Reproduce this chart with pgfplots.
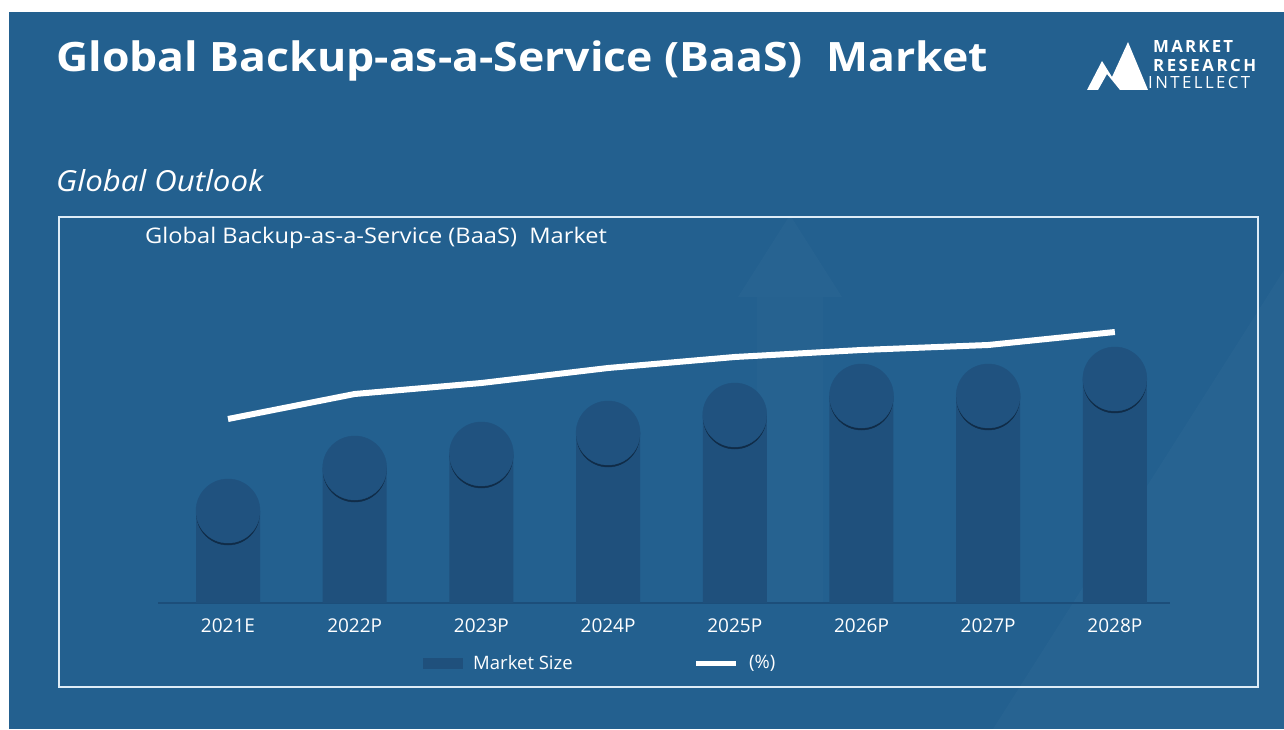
\documentclass[border=0pt]{standalone}
\usepackage{pgfplots}
\pgfplotsset{compat=1.18}
\usepackage{fontspec}
\setmainfont{Open Sans}
\definecolor{bg}{RGB}{35,96,143}
\definecolor{barcol}{RGB}{31,80,124}
\definecolor{circcol}{RGB}{32,82,127}
\definecolor{shadowcol}{RGB}{16,44,72}
\definecolor{basecol}{RGB}{28,78,122}
\definecolor{boxline}{RGB}{222,236,246}
\begin{document}
\begin{tikzpicture}[x=1pt,y=1pt]
\useasboundingbox (0,0) rectangle (1284,729);
\fill[white] (0,0) rectangle (1284,729);
\fill[bg] (9,0) rectangle (1284,717);
% faint watermark
\fill[white,opacity=0.02] (738,432) -- (790,514) -- (842,432) -- cycle;
\fill[white,opacity=0.015] (757,432) rectangle (823,126);
\fill[white,opacity=0.02] (1284,459) -- (1284,0) -- (993,0) -- cycle;
% logo
\fill[white] (1087,639) -- (1102,668) -- (1112,652) -- (1128,687) -- (1148,639) -- (1120,639) -- (1107,655) -- (1098,639) -- cycle;
\node[anchor=base west, inner sep=0, text=white, font=\fontsize{16.8}{18}\bfseries\selectfont] at (1153,676) {\makebox[80pt][s]{M\hfil A\hfil R\hfil K\hfil E\hfil T}};
\node[anchor=base west, inner sep=0, text=white, font=\fontsize{16.8}{18}\bfseries\selectfont] at (1153,657) {\makebox[103pt][s]{R\hfil E\hfil S\hfil E\hfil A\hfil R\hfil C\hfil H}};
\node[anchor=base west, inner sep=0, text=white, font=\fontsize{16.8}{18}\selectfont] at (1148,640) {\makebox[102pt][s]{I\hfil N\hfil T\hfil E\hfil L\hfil L\hfil E\hfil C\hfil T}};
% titles
\node[anchor=base west, inner sep=0, text=white, font=\fontsize{40.5}{44}\bfseries\selectfont] at (56,657) {\scalebox{1.1}[1]{Global Backup-as-a-Service (BaaS)\ \ Market}};
\node[anchor=base west, inner sep=0, text=white, font=\fontsize{29}{32}\itshape\selectfont] at (56,537) {\scalebox{1.075}[1]{Global Outlook}};
% box
\draw[boxline, line width=2pt] (59,512) rectangle (1258,42);
\node[anchor=base west, inner sep=0, text=white, font=\fontsize{21.5}{24}\selectfont] at (145,485) {\scalebox{1.1}[1]{Global Backup-as-a-Service (BaaS)\ \ Market}};
\begin{axis}[
  at={(158pt,126pt)}, anchor=south west,
  scale only axis, width=1012pt, height=300pt,
  xmin=-0.5525, xmax=7.435, ymin=0, ymax=300,
  axis x line=bottom, hide y axis,
  x axis line style={-, draw=basecol, line width=1.2pt},
  xtick={0,...,7},
  xticklabels={2021E,2022P,2023P,2024P,2025P,2026P,2027P,2028P},
  major tick length=0pt,
  xticklabel style={text=white, font=\fontsize{19}{22}\selectfont, inner sep=0pt, yshift=-16pt},
  clip=false,
  legend style={at={(axis description cs:0.2619,-0.2)}, anchor=west, draw=none, fill=none,
    text=white, font=\fontsize{18.5}{20}\selectfont, inner sep=0pt,
    /tikz/every even column/.append style={column sep=119pt}},
  legend columns=2, legend cell align=left,
]
\addplot[ybar, bar width=64pt, fill=barcol, draw=none,
  legend image code/.code={\fill[barcol] (0pt,-5.5pt) rectangle (40pt,5.5pt); \path (48pt,0pt);}]
  coordinates {(0,92)(1,135)(2,149)(3,170)(4,188)(5,207)(6,207)(7,224)};
\addlegendentry{Market Size}
\addplot[only marks, mark=*, mark size=31.5pt, forget plot, color=shadowcol]
  coordinates {(0,89.5)(1,132.5)(2,146.5)(3,167.5)(4,185.5)(5,204.5)(6,204.5)(7,221.5)};
\addplot[only marks, mark=*, mark size=32pt, forget plot, color=circcol]
  coordinates {(0,92)(1,135)(2,149)(3,170)(4,188)(5,207)(6,207)(7,224)};
\addplot[white, line width=6pt, mark=none,
  legend image code/.code={\draw[white, line width=5pt] (0pt,0pt) -- (40pt,0pt); \path (48pt,0pt);}]
  coordinates {(0,184)(1,209)(2,220)(3,235)(4,246)(5,253)(6,258)(7,271)};
\addlegendentry{(\%)}
\end{axis}
\end{tikzpicture}
\end{document}
